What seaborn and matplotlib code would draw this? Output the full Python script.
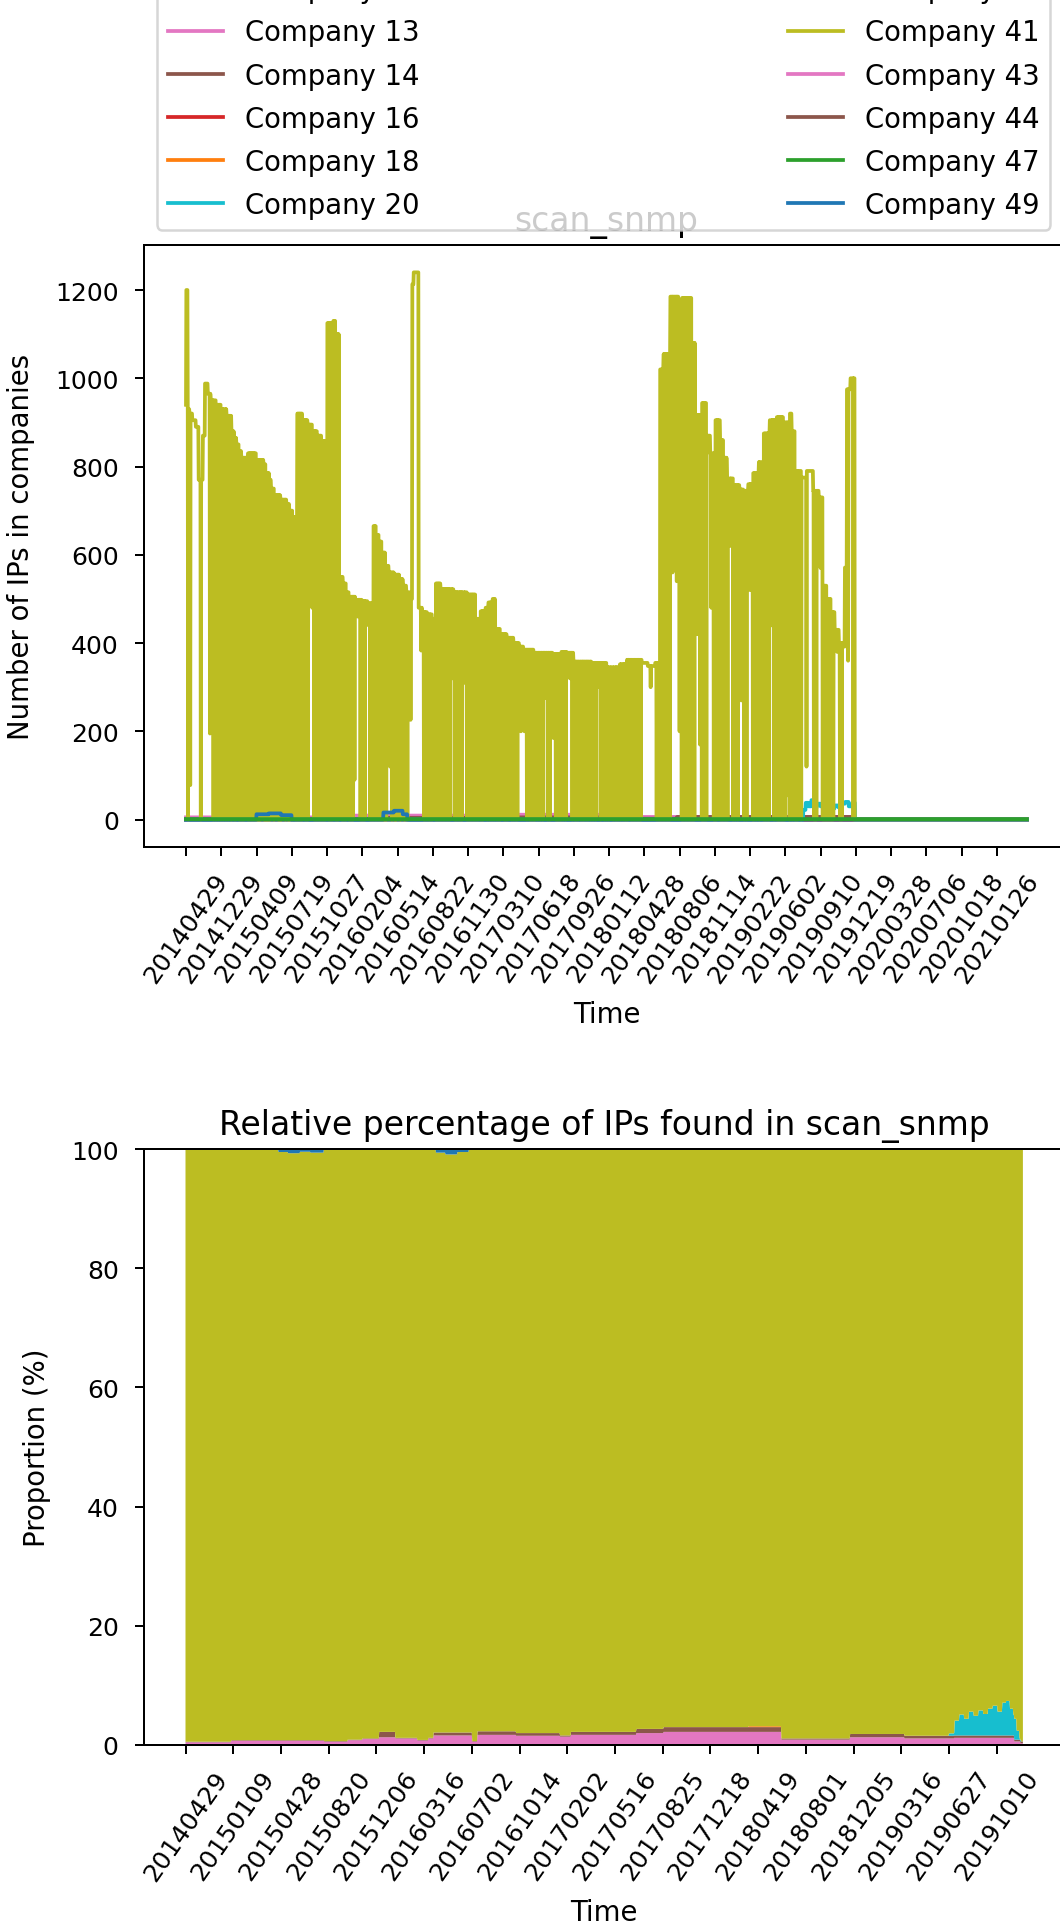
import numpy as np
import pandas as pd
import seaborn as sns
import matplotlib.pyplot as plt
from matplotlib.lines import Line2D

plt.rcParams['font.size'] = 11
plt.rcParams['xtick.labelsize'] = 10
plt.rcParams['ytick.labelsize'] = 10

# ---------------- top panel: number of IPs per company, one value per scan day
n_days = 2386
top_ticks = ['20140429', '20141229', '20150409', '20150719', '20151027', '20160204',
             '20160514', '20160822', '20161130', '20170310', '20170618', '20170926',
             '20180112', '20180428', '20180806', '20181114', '20190222', '20190602',
             '20190910', '20191219', '20200328', '20200706', '20201018', '20210126']

# values as runs: (first day index, value) held until the next run starts
c41_runs = [(0, 940), (1, 1200), (5, 930), (10, 920), (18, 905), (28, 890), (36, 770), (48, 870),
            (54, 988), (62, 965), (70, 950), (85, 940), (100, 930), (115, 915), (129, 880),
            (136, 865), (143, 850), (150, 835), (157, 820), (176, 830), (199, 815), (220, 805),
            (227, 785), (236, 770), (241, 750), (250, 735), (268, 725), (285, 715), (293, 700),
            (303, 685), (316, 920), (330, 905), (345, 895), (359, 880), (372, 870), (385, 858),
            (396, 850), (401, 1125), (418, 1130), (424, 1100), (434, 550), (445, 535), (455, 515),
            (462, 505), (480, 498), (500, 495), (515, 490), (532, 665), (540, 645), (547, 630),
            (555, 605), (565, 575), (575, 560), (590, 555), (605, 545), (615, 530), (625, 515),
            (637, 500), (642, 1213), (646, 1240), (660, 480), (670, 470), (685, 465), (698, 455),
            (708, 535), (722, 522), (759, 515), (797, 510), (821, 455), (835, 472), (850, 480),
            (858, 492), (870, 500), (877, 432), (891, 420), (910, 412), (929, 400), (945, 392),
            (957, 385), (986, 378), (1040, 375), (1065, 380), (1080, 378), (1099, 358),
            (1150, 355), (1193, 345), (1231, 352), (1251, 362), (1293, 355), (1310, 348),
            (1331, 355), (1345, 1020), (1355, 1055), (1374, 1185), (1397, 1170), (1407, 1182),
            (1435, 1080), (1444, 917), (1463, 944), (1477, 870), (1487, 830), (1501, 905),
            (1515, 860), (1525, 820), (1534, 773), (1553, 758), (1570, 748), (1581, 745),
            (1595, 760), (1609, 785), (1625, 810), (1638, 875), (1656, 905), (1675, 912),
            (1694, 900), (1713, 920), (1718, 880), (1727, 790), (1745, 775), (1760, 790),
            (1779, 745), (1795, 730), (1807, 530), (1817, 500), (1830, 470), (1840, 430),
            (1852, 400), (1864, 392), (1869, 571), (1875, 975), (1885, 1000), (1897, 0)]

# single days where company 41 dropped: (day index, value)
c41_drops = [
    (6, 0), (12, 78), (42, 0), (68, 195), (78, 0), (85, 0), (92, 0), (99, 0), (106, 0),
    (113, 0), (120, 0), (127, 0),
    (130, 0), (134, 440), (137, 0), (141, 0), (146, 600), (150, 0), (154, 0), (158, 0), (162, 0),
    (166, 0), (171, 640), (175, 0), (179, 0), (183, 0), (187, 0), (191, 0), (195, 0), (199, 0),
    (203, 0), (207, 0), (211, 0), (216, 620), (222, 0), (226, 0), (230, 0), (234, 0), (238, 0),
    (242, 160), (246, 190), (250, 0), (254, 140), (258, 130), (262, 0), (266, 0), (270, 0),
    (274, 150), (278, 100), (282, 0), (286, 190), (290, 0), (294, 0), (298, 120), (302, 0),
    (306, 120), (310, 0), (314, 0),
    (318, 0), (322, 0), (326, 0), (330, 0), (334, 170), (338, 0), (342, 0), (346, 0), (352, 500),
    (358, 480), (364, 0), (368, 0), (372, 0), (376, 0), (380, 0), (384, 0), (388, 0), (392, 0),
    (396, 0), (400, 180), (404, 0), (408, 0), (412, 0), (416, 0), (420, 180), (424, 0), (428, 0),
    (432, 0),
    (437, 440), (442, 0), (446, 0), (450, 0), (454, 0), (458, 100), (462, 0), (466, 0), (470, 0),
    (474, 0), (478, 90), (487, 460), (495, 0), (499, 0), (503, 0), (507, 0), (518, 440), (523, 0),
    (527, 0), (531, 0), (535, 0), (539, 0), (543, 0), (547, 0), (551, 0), (555, 0), (559, 0),
    (563, 0), (568, 0), (572, 230), (579, 120), (584, 0), (588, 520), (592, 0), (596, 0),
    (603, 380), (608, 0), (613, 123), (620, 0), (628, 0), (637, 226),
    (667, 383), (675, 0), (679, 0), (684, 0), (689, 0), (693, 0), (698, 0), (703, 132), (708, 0),
    (712, 0), (716, 0), (720, 0), (724, 0), (728, 0), (732, 0), (736, 0), (740, 0), (744, 0),
    (748, 0), (755, 320), (762, 0), (766, 0), (770, 0), (775, 0), (779, 0), (783, 0), (790, 310),
    (797, 0), (801, 0), (805, 0), (809, 0), (813, 0), (817, 0), (821, 0), (825, 0), (829, 0),
    (835, 0), (839, 0), (843, 0), (847, 150), (855, 0), (862, 0), (868, 0), (874, 0), (881, 0),
    (886, 0), (891, 0), (898, 374), (903, 0), (907, 0), (912, 0), (924, 0), (930, 0), (936, 0),
    (940, 0), (950, 200), (960, 200), (967, 0), (975, 0), (979, 0), (983, 0), (987, 0), (990, 0),
    (997, 0), (1005, 0), (1012, 0), (1019, 275), (1026, 0), (1032, 0), (1042, 185), (1049, 0),
    (1053, 0), (1056, 0), (1060, 0), (1064, 0), (1070, 0), (1077, 0), (1089, 320), (1096, 0),
    (1103, 0), (1107, 0), (1112, 0), (1120, 0), (1125, 0), (1129, 0), (1135, 0), (1140, 0),
    (1148, 0), (1155, 0), (1162, 0), (1170, 300), (1176, 0), (1181, 42), (1187, 0), (1193, 0),
    (1199, 0), (1205, 70), (1212, 0), (1218, 0), (1222, 0), (1227, 0), (1233, 0), (1240, 0),
    (1245, 0), (1249, 0),
    (1253, 0), (1258, 160), (1262, 0), (1266, 0), (1270, 0), (1274, 0), (1278, 0), (1282, 0),
    (1286, 0), (1290, 0), (1318, 300), (1335, 0), (1340, 0), (1344, 0), (1348, 0), (1352, 0),
    (1356, 0), (1360, 0), (1364, 0), (1368, 0), (1372, 0), (1380, 560), (1392, 540), (1400, 200),
    (1406, 0), (1410, 0), (1414, 0), (1418, 0), (1422, 0), (1426, 0), (1430, 0), (1434, 0),
    (1438, 0), (1442, 0), (1450, 420), (1458, 170), (1463, 0), (1467, 0), (1471, 0), (1476, 0),
    (1490, 480), (1497, 0), (1501, 0), (1505, 0), (1510, 540), (1516, 0), (1520, 0), (1524, 0),
    (1528, 0), (1532, 0), (1536, 0), (1545, 620), (1552, 0), (1558, 0), (1565, 0), (1575, 270),
    (1583, 0), (1590, 0), (1600, 520), (1608, 0), (1612, 0), (1618, 0), (1626, 0), (1638, 0),
    (1642, 0), (1646, 0), (1650, 0), (1654, 0), (1662, 440), (1668, 0), (1675, 0), (1679, 0),
    (1682, 0), (1686, 0), (1690, 0), (1694, 0), (1698, 0), (1705, 55), (1712, 0), (1720, 0),
    (1727, 0), (1731, 0), (1735, 0), (1745, 0), (1760, 120), (1781, 0), (1785, 0), (1788, 0),
    (1800, 570), (1806, 0), (1810, 0), (1814, 0), (1817, 0), (1821, 0), (1825, 0), (1829, 0),
    (1832, 0), (1836, 0), (1847, 380), (1855, 0), (1860, 0), (1878, 360), (1893, 0)]

c13_runs = [(0, 5), (406, 9), (601, 4), (612, 9), (945, 11), (1249, 6), (1897, 0)]
c14_runs = [(0, 1), (406, 7), (440, 1), (520, 4), (945, 5), (1249, 2), (1393, 6), (1897, 0)]
c20_runs = [(0, 0), (1751, 22), (1758, 38), (1766, 30), (1774, 44), (1782, 28), (1790, 36),
            (1800, 30), (1815, 34), (1830, 25), (1840, 32), (1850, 28), (1860, 36), (1870, 40),
            (1880, 30), (1890, 38), (1898, 0)]
c49_runs = [(0, 0), (200, 12), (235, 14), (270, 10), (300, 0), (560, 16), (590, 20), (615, 12),
            (628, 0)]
c47_runs = [(0, 1)]
zero_runs = [(0, 0)]

# legend order (two columns) and colours
companies = ['Company 2', 'Company 11', 'Company 13', 'Company 14', 'Company 16', 'Company 18',
             'Company 20', 'Company 33', 'Company 38', 'Company 41', 'Company 43', 'Company 44',
             'Company 47', 'Company 49']
colors = {'Company 2': '#1f77b4', 'Company 11': '#9467bd', 'Company 13': '#e377c2',
          'Company 14': '#8c564b', 'Company 16': '#d62728', 'Company 18': '#ff7f0e',
          'Company 20': '#17becf', 'Company 33': '#7f7f7f', 'Company 38': '#9467bd',
          'Company 41': '#bcbd22', 'Company 43': '#e377c2', 'Company 44': '#8c564b',
          'Company 47': '#2ca02c', 'Company 49': '#1f77b4'}
draw_order = ['Company 2', 'Company 11', 'Company 33', 'Company 38', 'Company 16', 'Company 18',
              'Company 43', 'Company 44', 'Company 13', 'Company 14', 'Company 20', 'Company 41',
              'Company 49', 'Company 47']

# ---------------- bottom panel: share of each company (%), days with IPs only
m_days = 1756
bot_ticks = ['20140429', '20150109', '20150428', '20150820', '20151206', '20160316',
             '20160702', '20161014', '20170202', '20170516', '20170825', '20171218',
             '20180419', '20180801', '20181205', '20190316', '20190627', '20191010']
p13_runs = [(0, 0.45), (96, 0.7), (291, 0.55), (340, 0.8), (371, 1.0), (406, 1.3), (440, 1.1),
            (486, 0.75), (509, 1.1), (520, 1.6), (601, 0.55), (612, 1.7), (693, 1.55), (785, 1.4),
            (808, 1.7), (945, 2.0), (1002, 2.2), (1249, 0.9), (1393, 1.3), (1507, 1.1),
            (1611, 1.2), (1737, 0.6), (1750, 0.3)]
p14_runs = [(0, 0.1), (406, 0.9), (440, 0.1), (520, 0.5), (601, 0.1), (612, 0.6), (693, 0.45),
            (785, 0.2), (808, 0.5), (945, 0.7), (1002, 0.8), (1249, 0.2), (1393, 0.55),
            (1507, 0.45), (1611, 0.4), (1737, 0.3)]
p18_runs = [(0, 0), (1180, 0.15), (1249, 0)]
p20_runs = [(0, 0), (1600, 0.4), (1612, 2.5), (1622, 3.5), (1632, 2.8), (1642, 4.0), (1652, 3.3),
            (1662, 4.2), (1672, 3.6), (1682, 4.5), (1692, 5.0), (1702, 4.0), (1712, 5.5),
            (1720, 5.8), (1728, 4.5), (1735, 3.5), (1742, 1.5), (1748, 0.2), (1752, 0)]
p49_runs = [(0, 0), (195, 0.5), (215, 0.7), (240, 0.45), (262, 0.6), (290, 0), (525, 0.6),
            (545, 0.9), (570, 0.5), (594, 0)]


def from_runs(runs, n):
    starts = [s for s, _ in runs] + [n]
    vals = [v for _, v in runs]
    return np.repeat(np.array(vals, dtype=float), np.diff(starts))


c41 = from_runs(c41_runs, n_days)
for d, v in c41_drops:
    c41[d] = v

series = {name: from_runs(zero_runs, n_days) for name in companies}
series['Company 41'] = c41
series['Company 13'] = from_runs(c13_runs, n_days)
series['Company 14'] = from_runs(c14_runs, n_days)
series['Company 20'] = from_runs(c20_runs, n_days)
series['Company 49'] = from_runs(c49_runs, n_days)
series['Company 47'] = from_runs(c47_runs, n_days)

df = pd.concat([pd.DataFrame({'day': np.arange(n_days), 'ips': series[c], 'company': c})
                for c in draw_order], ignore_index=True)

fig = plt.figure(figsize=(1060 / 180, 1928 / 180), dpi=180)
ax1 = fig.add_axes([0.1358, 0.5602, 0.8726, 0.3122])
ax2 = fig.add_axes([0.1355, 0.0944, 0.869, 0.3091])

sns.lineplot(data=df, x='day', y='ips', hue='company', hue_order=draw_order,
             palette=colors, estimator=None, legend=False, ax=ax1)
ax1.set_xticks(range(0, n_days, 100))
ax1.set_xticklabels(top_ticks, rotation=55)
ax1.set_xlabel('Time', labelpad=5.5)
ax1.set_ylabel('Number of IPs in companies', labelpad=8)
ax1.set_title('scan_snmp')
handles = [Line2D([], [], color=colors[c], lw=1.5) for c in companies]
ax1.legend(handles, companies, loc='lower left', bbox_to_anchor=(0.014, 1.025, 0.966, 0.5),
           mode='expand', ncol=2, borderaxespad=0, labelspacing=0.55)

# proportions
x2 = np.arange(m_days)
p13 = from_runs(p13_runs, m_days)
p14 = from_runs(p14_runs, m_days)
p18 = from_runs(p18_runs, m_days)
p20 = from_runs(p20_runs, m_days)
p49 = from_runs(p49_runs, m_days)
p41 = 100 - (p13 + p14 + p18 + p20 + p49)
ax2.stackplot(x2, p13, p14, p18, p20, p41, p49,
              colors=[colors['Company 13'], colors['Company 14'], colors['Company 18'],
                      colors['Company 20'], colors['Company 41'], colors['Company 49']])
ax2.set_ylim(0, 100)
ax2.set_xticks(range(0, m_days, 100))
ax2.set_xticklabels(bot_ticks, rotation=55)
ax2.set_xlabel('Time', labelpad=5.5)
ax2.set_ylabel('Proportion (%)', labelpad=8)
ax2.set_title('Relative percentage of IPs found in scan_snmp')

for ax in (ax1, ax2):
    ax.tick_params(axis='x', pad=5)
    ax.tick_params(axis='y', pad=6.5)

fig.savefig('out.png', dpi=180)
